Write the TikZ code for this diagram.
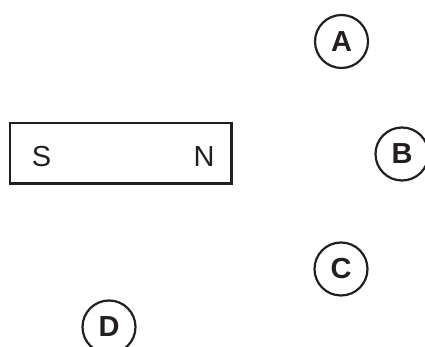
\documentclass[tikz,border=0pt]{standalone}
\usepackage{fontspec}
\setmainfont{Liberation Sans}
\definecolor{ink}{HTML}{231F20}
\begin{document}
\begin{tikzpicture}[x=1pt,y=-1pt,
  magnet/.style={draw=ink,line width=2.2pt},
  pole/.style={font=\fontsize{29}{29}\selectfont,text=ink,inner sep=0pt},
  probe/.style={circle,draw=ink,line width=2.2pt,minimum size=53pt,inner sep=0pt,
    font=\fontsize{29}{29}\selectfont\bfseries,text=ink}]
\useasboundingbox (0,0) rectangle (425,347);
\draw[magnet] (10,123) rectangle (231.5,183.5);
\node[pole] (S) at (41.5,157) {S};
\node[pole] (N) at (204,157) {N};
\node[probe] (A) at (341.5,41.5) {A};
\node[probe] (B) at (402,154) {B};
\node[probe] (C) at (341,269) {C};
\node[probe] (D) at (109,327) {D};
\end{tikzpicture}
\end{document}
